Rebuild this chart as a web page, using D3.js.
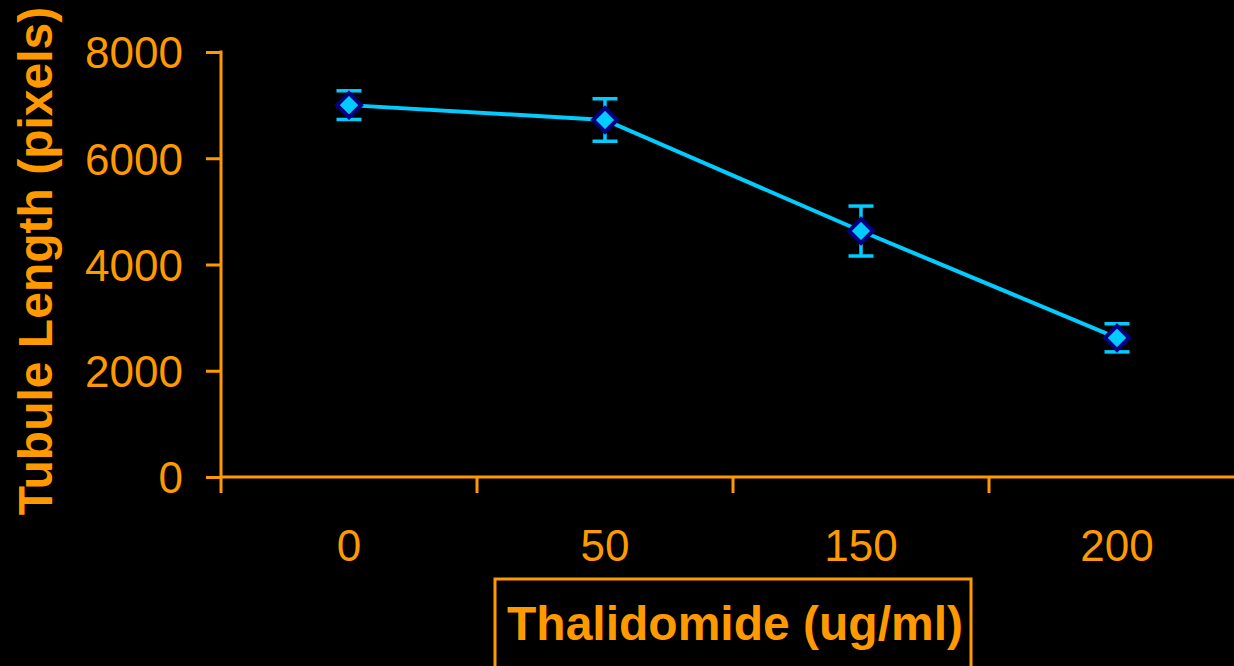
<!DOCTYPE html>
<html>
<head>
<meta charset="utf-8">
<script src="https://cdn.jsdelivr.net/npm/d3@7"></script>
<style>
  html, body { margin: 0; padding: 0; background: #000; }
  svg { display: block; }
  text { font-family: "Liberation Sans", Arial, sans-serif; fill: #ff9900; }
</style>
</head>
<body>
<svg id="chart"></svg>
<script>
// chart size
const WIDTH = 1234;
const HEIGHT = 666;

// data
const doses = ["0", "50", "150", "200"];
const tubuleLength = [7000, 6720, 4630, 2620];
const errorSize = [270, 400, 470, 265];
const yTicks = [0, 2000, 4000, 6000, 8000];

const ORANGE = "#ff9900";
const CYAN = "#00ccff";
const NAVY = "#000080";

const svg = d3.select("#chart")
    .attr("width", WIDTH)
    .attr("height", HEIGHT);

svg.append("rect")
    .attr("width", WIDTH)
    .attr("height", HEIGHT)
    .attr("fill", "#000");

const x = d3.scaleBand()
    .domain(doses)
    .range([221, 1245])
    .padding(0);

const y = d3.scaleLinear()
    .domain([0, 8000])
    .range([477, 52]);

// y axis
const yAxis = svg.append("g")
    .attr("transform", "translate(221,0)")
    .call(d3.axisLeft(y).tickValues(yTicks).tickSize(15).tickPadding(23).tickFormat(d3.format("d")));

yAxis.select(".domain").remove();
yAxis.selectAll(".tick line").attr("stroke", ORANGE).attr("stroke-width", 3);
yAxis.selectAll(".tick text")
    .attr("font-size", 44)
    .attr("dy", "0.36em")
    .style("font-family", "Liberation Sans, Arial, sans-serif")
    .attr("fill", ORANGE);

svg.append("line")
    .attr("x1", 221).attr("x2", 221)
    .attr("y1", y(8000) - 1.5).attr("y2", 493)
    .attr("stroke", ORANGE)
    .attr("stroke-width", 3);

// x axis
const xAxis = svg.append("g")
    .attr("transform", `translate(0,${y(0)})`)
    .call(d3.axisBottom(x).tickSize(0).tickPadding(53));

xAxis.select(".domain").remove();
xAxis.selectAll(".tick text")
    .attr("font-size", 44)
    .style("font-family", "Liberation Sans, Arial, sans-serif")
    .attr("fill", ORANGE);

svg.append("line")
    .attr("x1", 221).attr("x2", WIDTH)
    .attr("y1", y(0)).attr("y2", y(0))
    .attr("stroke", ORANGE)
    .attr("stroke-width", 3);

// tick marks sit between categories
svg.selectAll(".xsep")
    .data(doses.slice(1))
    .enter()
    .append("line")
    .attr("class", "xsep")
    .attr("x1", d => x(d)).attr("x2", d => x(d))
    .attr("y1", y(0)).attr("y2", y(0) + 16)
    .attr("stroke", ORANGE)
    .attr("stroke-width", 3);

// axis titles
svg.append("text")
    .attr("transform", `translate(52,${261}) rotate(-90)`)
    .attr("text-anchor", "middle")
    .attr("font-size", 48)
    .attr("font-weight", "bold")
    .text("Tubule Length (pixels)");

svg.append("rect")
    .attr("x", 495)
    .attr("y", 579)
    .attr("width", 476)
    .attr("height", 120)
    .attr("fill", "none")
    .attr("stroke", ORANGE)
    .attr("stroke-width", 3);

svg.append("text")
    .attr("x", 735)
    .attr("y", 640)
    .attr("text-anchor", "middle")
    .attr("font-size", 48)
    .attr("font-weight", "bold")
    .text("Thalidomide (ug/ml)");

// series
const points = doses.map((d, i) => ({
    dose: d,
    value: tubuleLength[i],
    err: errorSize[i]
}));
const cx = d => x(d.dose) + x.bandwidth() / 2;

const bars = svg.append("g");
bars.selectAll(".err")
    .data(points)
    .enter()
    .append("line")
    .attr("x1", cx).attr("x2", cx)
    .attr("y1", d => y(d.value + d.err))
    .attr("y2", d => y(d.value - d.err))
    .attr("stroke", CYAN)
    .attr("stroke-width", 3.5);

bars.selectAll(".cap")
    .data(points.flatMap(d => [{ p: d, v: d.value + d.err }, { p: d, v: d.value - d.err }]))
    .enter()
    .append("line")
    .attr("x1", d => cx(d.p) - 12.5).attr("x2", d => cx(d.p) + 12.5)
    .attr("y1", d => y(d.v)).attr("y2", d => y(d.v))
    .attr("stroke", CYAN)
    .attr("stroke-width", 3.5);

svg.append("path")
    .datum(points)
    .attr("fill", "none")
    .attr("stroke", CYAN)
    .attr("stroke-width", 4)
    .attr("d", d3.line().x(cx).y(d => y(d.value)));

// square diamond, size = half diagonal in px
const diamond = {
    draw(ctx, r) {
        ctx.moveTo(0, -r);
        ctx.lineTo(r, 0);
        ctx.lineTo(0, r);
        ctx.lineTo(-r, 0);
        ctx.closePath();
    }
};

svg.selectAll(".marker")
    .data(points)
    .enter()
    .append("path")
    .attr("transform", d => `translate(${cx(d)},${y(d.value)})`)
    .attr("d", d3.symbol(diamond, 12))
    .attr("fill", CYAN)
    .attr("stroke", NAVY)
    .attr("stroke-width", 4)
    .attr("stroke-linejoin", "miter");
</script>
</body>
</html>
